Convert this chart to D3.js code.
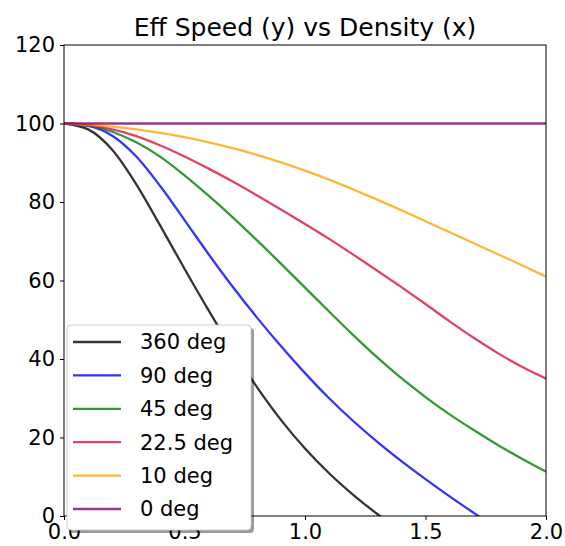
<!DOCTYPE html>
<html>
<head>
<meta charset="utf-8">
<script src="https://cdn.jsdelivr.net/npm/d3@7"></script>
<style>
  body { margin: 0; background: #fff; }
  text { font-family: "DejaVu Sans", sans-serif; fill: #000; }
</style>
</head>
<body>
<svg id="chart" width="565" height="546"></svg>
<script>
var width = 565;
var height = 546;
var margin = {top: 45, right: 19, bottom: 30, left: 64};

// density values (x)
var density = [0, 0.1, 0.2, 0.3, 0.4, 0.5, 0.6, 0.7, 0.8, 0.9, 1.0,
               1.1, 1.2, 1.3, 1.4, 1.5, 1.6, 1.7, 1.8, 1.9, 2.0];

// effective speed per angle
var speed360 = [100, 98.5, 93.3, 84.5, 73.9, 63.0, 52.4, 42.3, 32.9, 24.5, 17.2,
                10.9, 5.4, 0.5, -3.9, null, null, null, null, null, null];
var speed90 = [100, 99.4, 96.9, 91.6, 84.0, 75.4, 66.7, 58.4, 50.6, 43.3, 36.4,
               30.0, 24.2, 18.9, 14.0, 9.4, 5.0, 0.8, -3.3, null, null];
var speed45 = [100, 99.5, 97.9, 95.2, 91.5, 86.8, 81.6, 76.1, 70.3, 64.3, 58.2,
               52.1, 46.1, 40.4, 35.1, 30.3, 25.9, 21.9, 18.1, 14.6, 11.3];
var speed22 = [100, 99.5, 98.5, 96.8, 94.4, 91.6, 88.5, 85.2, 81.7, 78.1, 74.4,
               70.6, 66.6, 62.5, 58.3, 54.0, 49.6, 45.4, 41.5, 38.0, 35.0];
var speed10 = [100, 99.7, 99.2, 98.5, 97.6, 96.5, 95.2, 93.7, 92.0, 90.1, 88.0,
               85.7, 83.2, 80.6, 77.9, 75.1, 72.3, 69.5, 66.7, 63.9, 61.0];
var speed0 = [100, 100, 100, 100, 100, 100, 100, 100, 100, 100, 100,
              100, 100, 100, 100, 100, 100, 100, 100, 100, 100];

var labels = ["360 deg", "90 deg", "45 deg", "22.5 deg", "10 deg", "0 deg"];
var colors = ["#000000", "#0000ff", "#008000", "#dc143c", "#ffa500", "#800080"];
var series = [speed360, speed90, speed45, speed22, speed10, speed0];

var xTicks = [0, 0.5, 1.0, 1.5, 2.0];
var yTicks = [0, 20, 40, 60, 80, 100, 120];

var svg = d3.select("#chart");

var x = d3.scaleLinear().domain([0, 2]).range([margin.left, width - margin.right]);
var y = d3.scaleLinear().domain([0, 120]).range([height - margin.bottom, margin.top]);

svg.append("defs").append("clipPath").attr("id", "plotclip")
    .append("rect")
    .attr("x", margin.left).attr("y", margin.top)
    .attr("width", width - margin.left - margin.right)
    .attr("height", height - margin.top - margin.bottom);

var line = d3.line()
    .defined(function(d){ return d[1] !== null; })
    .x(function(d){ return x(d[0]); })
    .y(function(d){ return y(d[1]); })
    .curve(d3.curveMonotoneX);

var lines = svg.append("g").attr("clip-path", "url(#plotclip)");
series.forEach(function(s, i){
    lines.append("path")
        .datum(density.map(function(d, j){ return [d, s[j]]; }))
        .attr("d", line)
        .attr("fill", "none")
        .attr("stroke", colors[i])
        .attr("stroke-opacity", 0.8)
        .attr("stroke-width", 2.3);
});

// axes
var xAxis = svg.append("g")
    .attr("transform", "translate(0," + (height - margin.bottom) + ")")
    .call(d3.axisBottom(x).tickValues(xTicks).tickFormat(d3.format(".1f")).tickSizeOuter(0).tickSize(4).tickPadding(4));
var yAxis = svg.append("g")
    .attr("transform", "translate(" + margin.left + ",0)")
    .call(d3.axisLeft(y).tickValues(yTicks).tickSizeOuter(0).tickSize(4).tickPadding(5));

[xAxis, yAxis].forEach(function(a){
    a.select(".domain").remove();
    a.selectAll("line").attr("stroke", "#000").attr("stroke-width", 1);
    a.selectAll("text").style("font-size", "21px").attr("fill", "#000");
});

// frame
svg.append("rect")
    .attr("x", margin.left).attr("y", margin.top)
    .attr("width", width - margin.left - margin.right)
    .attr("height", height - margin.top - margin.bottom)
    .attr("fill", "none")
    .attr("stroke", "#000")
    .attr("stroke-width", 1);

// title
svg.append("text")
    .attr("x", (margin.left + width - margin.right) / 2)
    .attr("y", 36)
    .attr("text-anchor", "middle")
    .style("font-size", "25px")
    .text("Eff Speed (y) vs Density (x)");

// legend
var lgX = 67, lgY = 325, lgW = 184, lgH = 205, rowH = 33.4;
var legend = svg.append("g");
legend.append("rect")
    .attr("x", lgX + 3).attr("y", lgY + 3)
    .attr("width", lgW).attr("height", lgH)
    .attr("rx", 4)
    .attr("fill", "#000").attr("fill-opacity", 0.4);
legend.append("rect")
    .attr("x", lgX).attr("y", lgY)
    .attr("width", lgW).attr("height", lgH)
    .attr("rx", 4)
    .attr("fill", "#fff")
    .attr("stroke", "#ccc").attr("stroke-width", 1);

labels.forEach(function(l, i){
    var cy = lgY + 17 + i * rowH;
    legend.append("line")
        .attr("x1", lgX + 6).attr("x2", lgX + 54)
        .attr("y1", cy).attr("y2", cy)
        .attr("stroke", colors[i])
        .attr("stroke-opacity", 0.8)
        .attr("stroke-width", 2.3);
    legend.append("text")
        .attr("x", lgX + 73)
        .attr("y", cy)
        .attr("dy", "0.35em")
        .style("font-size", "21px")
        .text(l);
});
</script>
</body>
</html>
